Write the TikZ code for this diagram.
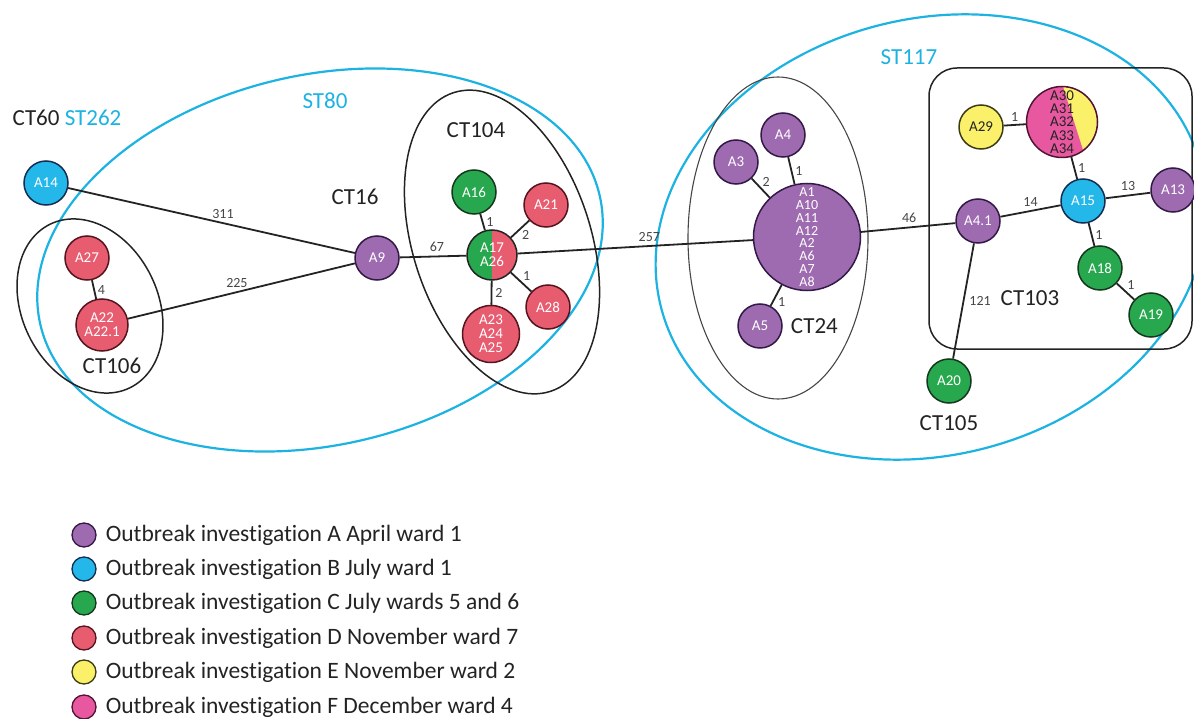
\documentclass[tikz,border=0pt]{standalone}
\usepackage{fontspec}
\setmainfont{Carlito}[Ligatures=NoCommon]
\usetikzlibrary{positioning, calc}
\definecolor{mydark}{RGB}{35,35,35}
\definecolor{mygray}{RGB}{70,70,70}
\definecolor{stcyan}{RGB}{28,178,226}
\definecolor{mypurple}{RGB}{158,106,176}
\definecolor{dkpurple}{RGB}{50,25,70}
\definecolor{myblue}{RGB}{36,184,234}
\definecolor{dkblue}{RGB}{20,45,80}
\definecolor{mygreen}{RGB}{40,168,78}
\definecolor{dkgreen}{RGB}{20,55,30}
\definecolor{myred}{RGB}{232,92,112}
\definecolor{dkred}{RGB}{85,20,30}
\definecolor{myyellow}{RGB}{250,240,105}
\definecolor{dkyellow}{RGB}{60,60,20}
\definecolor{mypink}{RGB}{232,88,160}
\definecolor{dkpink}{RGB}{80,20,50}
\tikzset{
  iso/.style={circle, minimum size=44pt, inner sep=0pt, line width=1.5pt,
    text=white, align=center, font=\fontsize{15}{14}\selectfont},
  purpleiso/.style={iso, fill=mypurple, draw=dkpurple},
  blueiso/.style={iso, fill=myblue, draw=dkblue},
  greeniso/.style={iso, fill=mygreen, draw=dkgreen},
  rediso/.style={iso, fill=myred, draw=dkred},
  yellowiso/.style={iso, fill=myyellow, draw=dkyellow, text=mydark},
  link/.style={line width=1.8pt, color=mydark},
  ctring/.style={line width=1.5pt, draw=mydark},
  stline/.style={line width=2.2pt, draw=stcyan}
}

\begin{document}
\begin{tikzpicture}[x=1pt, y=-1pt,
  snp/.style={font=\fontsize{14}{14}\selectfont, text=mygray, inner sep=1pt},
  ctlabel/.style={font=\fontsize{23}{23}\selectfont, text=mydark, inner sep=0pt},
  stlabel/.style={font=\fontsize{23}{23}\selectfont, text=stcyan, inner sep=0pt},
  legdot/.style={circle, minimum size=24pt, inner sep=0pt, line width=1.3pt},
  legtext/.style={font=\fontsize{23.5}{23.5}\selectfont, text=mydark, inner sep=0pt}]

  \useasboundingbox (0,0) rectangle (1194,719);

  % Sequence types and clonal types
  \draw[stline, rotate around={13:(320,260)}] (320,260) ellipse [x radius=287pt, y radius=185pt];
  \draw[stline, rotate around={15:(931,237)}] (931,237) ellipse [x radius=279pt, y radius=218pt];
  \draw[ctring, rotate around={26:(90,306)}] (90,306) ellipse [x radius=68pt, y radius=91pt];
  \draw[ctring, rotate around={18:(502,242)}] (502,242) ellipse [x radius=89pt, y radius=157pt];
  \draw[ctring, line width=1.1pt, draw=mygray] (778,238) ellipse [x radius=90pt, y radius=161pt];
  \draw[ctring, rounded corners=28pt] (929,68) rectangle (1192,349);

  % Nodes
  \node[blueiso] (a14) at (46,183) {A14};
  \node[rediso] (a27) at (87,258) {A27};
  \node[rediso, minimum size=52pt] (a22) at (102,325) {A22\\A22.1};
  \node[purpleiso] (a9) at (377,258) {A9};
  \node[greeniso] (a16) at (474,192) {A16};
  \node[rediso] (a21) at (546,205) {A21};
  \node[rediso, draw=mydark, minimum size=50pt,
    path picture={\fill[mygreen] (path picture bounding box.south west) rectangle (path picture bounding box.north);}]
    (a17) at (492,255) {A17\\A26};
  \node[rediso] (a28) at (548,307) {A28};
  \node[rediso, minimum size=57pt] (a23) at (491,334) {A23\\A24\\A25};
  \node[purpleiso] (a4) at (783,135) {A4};
  \node[purpleiso] (a3) at (736,162) {A3};
  \node[purpleiso, minimum size=107pt, font=\fontsize{14}{12.9}\selectfont] (a1) at (807,237)
    {A1\\A10\\A11\\A12\\A2\\A6\\A7\\A8};
  \node[purpleiso] (a5) at (760,326) {A5};
  \node[purpleiso] (a41) at (978,221) {A4.1};
  \node[yellowiso] (a29) at (981,127) {A29};
  \node[iso, fill=mypink, draw=dkpink, text=mydark, minimum size=71pt, font=\fontsize{15}{13.2}\selectfont,
    path picture={\fill[myyellow] (path picture bounding box.center) ++(88:35pt) arc[start angle=88, end angle=-53, radius=35pt] -- cycle;}]
    (a30) at (1062,122) {A30\\A31\\A32\\A33\\A34};
  \node[blueiso] (a15) at (1083,201) {A15};
  \node[purpleiso] (a13) at (1173,190) {A13};
  \node[greeniso] (a18) at (1100,268) {A18};
  \node[greeniso] (a19) at (1151,315) {A19};
  \node[greeniso] (a20) at (949,381) {A20};

  % Links
  \draw[link] (a14) -- node[snp, pos=0.54, above=3pt] {311} (a9);
  \draw[link] (a22) -- node[snp, pos=0.48, above=3pt] {225} (a9);
  \draw[link] (a27) -- node[snp, right=2pt] {4} (a22);
  \draw[link] (a9) -- node[snp, pos=0.56, above=3pt] {67} (a17);
  \draw[link] (a16) -- node[snp, right=2pt] {1} (a17);
  \draw[link] (a21) -- node[snp, below right] {2} (a17);
  \draw[link] (a17) -- node[snp, above right] {1} (a28);
  \draw[link] (a17) -- node[snp, right=2pt] {2} (a23);
  \draw[link] (a17) -- node[snp, pos=0.56, above=3pt] {257} (a1);
  \draw[link] (a3) -- node[snp, above right] {2} (a1);
  \draw[link] (a4) -- node[snp, right=2pt] {1} (a1);
  \draw[link] (a5) -- node[snp, below right] {1} (a1);
  \draw[link] (a1) -- node[snp, pos=0.51, above=3pt] {46} (a41);
  \draw[link] (a41) -- node[snp, above=3pt] {14} (a15);
  \draw[link] (a41) -- node[snp, right=4pt] {121} (a20);
  \draw[link] (a29) -- node[snp, above=2pt] {1} (a30);
  \draw[link] (a30) -- node[snp, right=2pt] {1} (a15);
  \draw[link] (a15) -- node[snp, above=3pt] {13} (a13);
  \draw[link] (a15) -- node[snp, right=2pt] {1} (a18);
  \draw[link] (a18) -- node[snp, above right] {1} (a19);

  % Labels
  \node[ctlabel] (ct60) at (67,118) {CT60 \textcolor{stcyan}{ST262}};
  \node[stlabel] (st80) at (325,101) {ST80};
  \node[ctlabel] (ct16) at (355,197) {CT16};
  \node[ctlabel] (ct104) at (476,130) {CT104};
  \node[ctlabel] (ct106) at (112,366) {CT106};
  \node[ctlabel, right=8pt of a5] (ct24) {CT24};
  \node[stlabel] (st117) at (909,57) {ST117};
  \node[ctlabel] (ct103) at (1030,298) {CT103};
  \node[ctlabel, below=12pt of a20] (ct105) {CT105};

  % Legend
  \node[legdot, fill=mypurple, draw=dkpurple] (leg1) at (84,535) {};
  \node[legdot, fill=myblue, draw=dkblue] (leg2) at (84,569) {};
  \node[legdot, fill=mygreen, draw=dkgreen] (leg3) at (84,603) {};
  \node[legdot, fill=myred, draw=dkred] (leg4) at (84,638) {};
  \node[legdot, fill=myyellow, draw=dkyellow] (leg5) at (84,672) {};
  \node[legdot, fill=mypink, draw=dkpink] (leg6) at (84,707) {};
  \node[legtext, right=9pt of leg1] (legtxt1) {Outbreak investigation A April ward 1};
  \node[legtext, right=9pt of leg2] (legtxt2) {Outbreak investigation B July ward 1};
  \node[legtext, right=9pt of leg3] (legtxt3) {Outbreak investigation C July wards 5 and 6};
  \node[legtext, right=9pt of leg4] (legtxt4) {Outbreak investigation D November ward 7};
  \node[legtext, right=9pt of leg5] (legtxt5) {Outbreak investigation E November ward 2};
  \node[legtext, right=9pt of leg6] (legtxt6) {Outbreak investigation F December ward 4};

\end{tikzpicture}
\end{document}
